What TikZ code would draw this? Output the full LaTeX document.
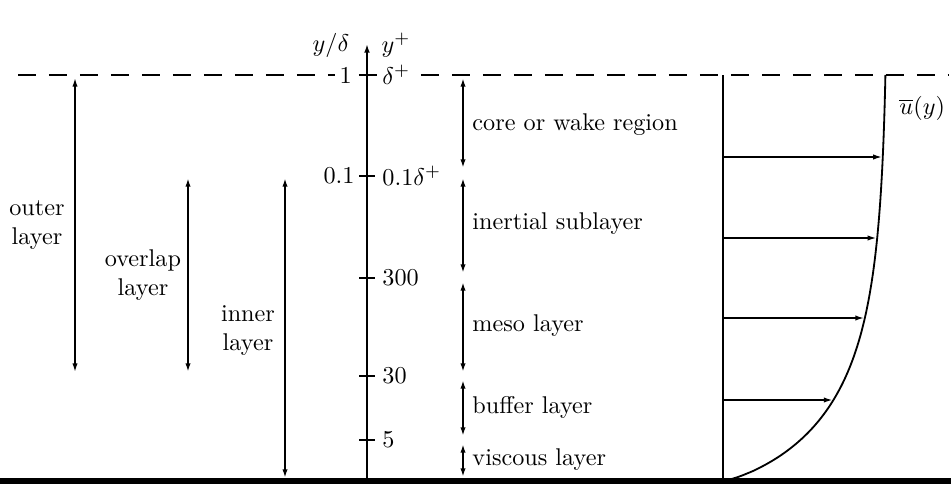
\documentclass[tikz,border=0pt]{standalone}
\usetikzlibrary{arrows.meta}
\begin{document}
\begin{tikzpicture}[x=0.413pt,y=-0.413pt,
  dbl/.style={{Latex[length=3.6pt,width=2.2pt]}-{Latex[length=3.6pt,width=2.2pt]}, line width=0.75pt},
  vel/.style={-{Latex[length=3.6pt,width=2.2pt]}, line width=0.65pt},
  lbl/.style={inner sep=0pt, anchor=west},
  tl/.style={inner sep=0pt, anchor=east},
  tr/.style={inner sep=0pt, anchor=west},
  wb/.style={fill=white, inner sep=2pt},
  side/.style={align=center, inner sep=0pt},
  tk/.style={line width=0.8pt},
  declare function={prof(\h)=723+165*(1-exp(-((\h)/71.6)^0.82));}]
\useasboundingbox (0,0) rectangle (951,484);
% ground and top dashed line
\coordinate (g0) at (0,481); \coordinate (g1) at (951,481);
\draw[line width=2.4pt] (g0) -- (g1);
\coordinate (d0) at (18,75); \coordinate (d1) at (948,75);
\draw[line width=0.6pt, dash pattern=on 7.6pt off 5.2pt] (d0) -- (d1);
% tick labels (white background over the dashed line)
\node[tl, wb] (l1) at (357,75) {1};
\node[tr, wb] (r1) at (377,75) {$\delta^+$};
\node[tl] (l2) at (355,176) {0.1};
\node[tr] (r2) at (382,176) {$0.1\delta^+$};
\node[tr] (r3) at (382,278) {300};
\node[tr] (r4) at (382,376) {30};
\node[tr] (r5) at (382,440) {5};
% axis
\coordinate (ax0) at (367,481); \coordinate (ax1) at (367,44);
\draw[line width=0.8pt, -{Latex[length=3.6pt,width=2.4pt]}] (ax0) -- (ax1);
\node[inner sep=0pt] (yd) at (331,45) {$y/\delta$};
\node[inner sep=0pt] (yp) at (396,45) {$y^+$};
% ticks
\foreach \n/\y in {t1/75, t2/176, t3/278, t4/376, t5/440} {
  \coordinate (\n a) at (359,\y); \coordinate (\n b) at (375,\y);
  \draw[tk] (\n a) -- (\n b);
}
% right layer arrows
\foreach \n/\a/\b in {c/78/168, i/178/273, m/282/372, b/380/436, v/444/477} {
  \coordinate (\n a) at (463,\a); \coordinate (\n b) at (463,\b);
  \draw[dbl] (\n a) -- (\n b);
}
\node[lbl] (core) at (472,125) {core or wake region};
\node[lbl] (iner) at (472,224) {inertial sublayer};
\node[lbl] (meso) at (472,326) {meso layer};
\node[lbl] (buff) at (472,407) {buffer layer};
\node[lbl] (visc) at (472,460) {viscous layer};
% left arrows
\coordinate (oa) at (75,78); \coordinate (ob) at (75,372);
\draw[dbl, line width=0.6pt] (oa) -- (ob);
\coordinate (pa) at (188,178); \coordinate (pb) at (188,372);
\draw[dbl] (pa) -- (pb);
\coordinate (na) at (285,178); \coordinate (nb) at (285,478);
\draw[dbl] (na) -- (nb);
\node[side] (outer) at (37,225) {outer\\layer};
\node[side] (overlap) at (143,275) {overlap\\layer};
\node[side] (inner) at (248,331) {inner\\layer};
% velocity profile
\coordinate (w0) at (723,481); \coordinate (w1) at (723,75);
\draw[line width=0.7pt] (w0) -- (w1);
\draw[line width=0.75pt] plot[domain=0.001:406, samples=160, variable=\h, smooth] ({prof(\h)}, {481-\h});
\foreach \n/\y in {a1/157, a2/238, a3/318, a4/400} {
  \coordinate (\n s) at (723,\y); \coordinate (\n t) at ({prof(481-\y)-0.8},\y);
  \draw[vel] (\n s) -- (\n t);
}
\node[lbl] (ubar) at (899,108) {$\overline{u}(y)$};
\end{tikzpicture}
\end{document}
